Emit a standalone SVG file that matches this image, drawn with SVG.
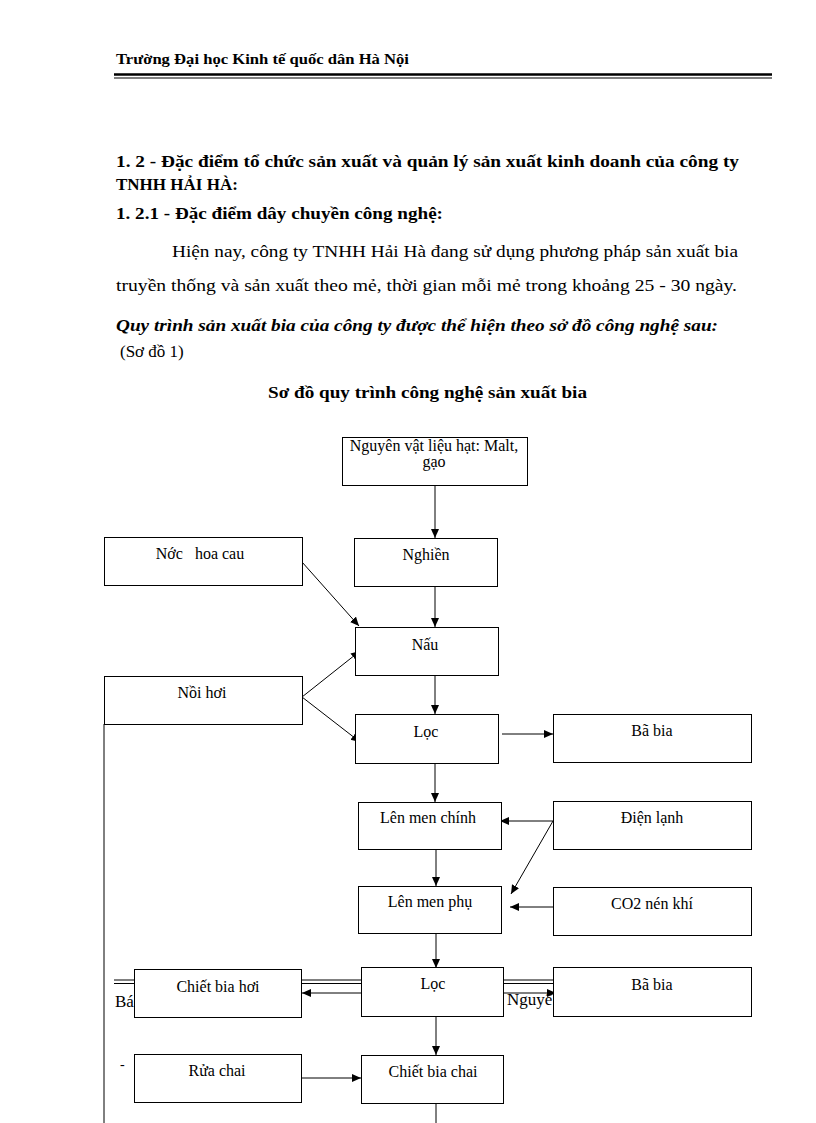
<svg xmlns="http://www.w3.org/2000/svg" width="816" height="1123" viewBox="0 0 816 1123">
<style>
.pg{font-family:"Liberation Serif","Times New Roman",serif;fill:#000}
.b{font-weight:bold}
.bt{font-family:"Liberation Serif","Times New Roman",serif;font-size:16px;fill:#000;text-anchor:middle}
.box{fill:#fff;stroke:#000;stroke-width:1}
.ln{stroke:#000;stroke-width:1;fill:none}
.ar{stroke:#000;stroke-width:1;fill:none;marker-end:url(#ah)}
</style>
<defs>
<marker id="ah" markerUnits="userSpaceOnUse" markerWidth="10" markerHeight="10" refX="9" refY="4" orient="auto">
<path d="M0,0 L9,4 L0,8 z" fill="#000"/>
</marker>
</defs>
<rect width="816" height="1123" fill="#fff"/>
<g id="page-text">
<text class="pg b" x="116" y="64" font-size="14" textLength="293" lengthAdjust="spacingAndGlyphs">Trường Đại học Kinh tế quốc dân Hà Nội</text>
<line x1="114" y1="74.5" x2="772" y2="74.5" stroke="#000" stroke-width="2.5"/>
<line x1="114" y1="78" x2="772" y2="78" stroke="#000" stroke-width="1"/>
<text class="pg b" x="116" y="167" font-size="17" textLength="623" lengthAdjust="spacingAndGlyphs">1. 2 - Đặc điểm tổ chức sản xuất và quản lý sản xuất kinh doanh của công ty</text>
<text class="pg b" x="116" y="190" font-size="17">TNHH HẢI HÀ:</text>
<text class="pg b" x="116" y="219" font-size="17" textLength="327" lengthAdjust="spacingAndGlyphs">1. 2.1 - Đặc điểm dây chuyền công nghệ:</text>
<text class="pg" x="172" y="257" font-size="17" textLength="566" lengthAdjust="spacingAndGlyphs">Hiện nay, công ty TNHH Hải Hà đang sử dụng phương pháp sản xuất bia</text>
<text class="pg" x="116" y="291" font-size="17" textLength="621" lengthAdjust="spacingAndGlyphs">truyền thống và sản xuất theo mẻ, thời gian mỗi mẻ trong khoảng 25  - 30 ngày.</text>
<text class="pg b" x="116" y="331" font-size="17" font-style="italic" textLength="602" lengthAdjust="spacingAndGlyphs">Quy trình sản xuất bia của công ty được thể hiện theo sở đồ công nghệ sau:</text>
<text class="pg" x="120" y="357" font-size="17">(Sơ đồ 1)</text>
<text class="pg b" x="268" y="398" font-size="17" textLength="319" lengthAdjust="spacingAndGlyphs">Sơ đồ quy trình  công nghệ sản xuất bia</text>
</g>
<g id="background-bleed">
<line x1="114" y1="980" x2="751" y2="980" stroke="#000" stroke-width="1"/>
<line x1="114" y1="983.5" x2="751" y2="983.5" stroke="#000" stroke-width="1"/>
<text class="pg" x="115" y="1007" font-size="17">Bá</text>
<text class="pg" x="507" y="1005" font-size="17">Nguyê</text>
<text class="pg" x="120" y="1069" font-size="14">-</text>
</g>
<g id="connectors">
<line class="ar" x1="435" y1="485" x2="435" y2="538"/>
<line class="ar" x1="435" y1="586" x2="435" y2="627"/>
<line class="ar" x1="302" y1="562" x2="359" y2="626"/>
<line class="ar" x1="302" y1="697" x2="360" y2="651"/>
<line class="ar" x1="302" y1="697" x2="360" y2="742"/>
<line class="ar" x1="435" y1="675" x2="435" y2="714"/>
<line class="ar" x1="502" y1="734" x2="553" y2="734"/>
<line class="ar" x1="435" y1="763" x2="435" y2="802"/>
<line class="ar" x1="553" y1="821" x2="500" y2="821"/>
<line class="ar" x1="553" y1="821" x2="511" y2="894"/>
<line class="ar" x1="553" y1="907" x2="510" y2="907"/>
<line class="ar" x1="436" y1="849" x2="436" y2="886"/>
<line class="ar" x1="436" y1="933" x2="436" y2="968"/>
<line class="ar" x1="362" y1="993" x2="302" y2="993"/>
<line class="ar" x1="504" y1="993" x2="556" y2="993"/>
<line class="ar" x1="436" y1="1016" x2="436" y2="1055"/>
<line class="ar" x1="301" y1="1078" x2="361" y2="1078"/>
<line class="ln" x1="436" y1="1103" x2="436" y2="1123"/>
<line class="ln" x1="104" y1="724" x2="104" y2="1123"/>
</g>
<g id="n-nguyenlieu"><rect class="box" x="342.5" y="437.5" width="185" height="48"/><text class="bt" x="434" y="451">Nguyên vật liệu hạt: Malt,</text><text class="bt" x="434" y="467">gạo</text></g>
<g id="n-nghien"><rect class="box" x="354.5" y="538.5" width="143" height="48"/><text class="bt" x="426" y="560">Nghiền</text></g>
<g id="n-nuochoacau"><rect class="box" x="104.5" y="537.5" width="198" height="48"/><text class="bt" x="200" y="559" xml:space="preserve">Nớc   hoa cau</text></g>
<g id="n-nau"><rect class="box" x="355.5" y="627.5" width="143" height="48"/><text class="bt" x="425" y="650">Nấu</text></g>
<g id="n-noihoi"><rect class="box" x="104.5" y="676.5" width="198" height="48"/><text class="bt" x="202" y="698">Nồi hơi</text></g>
<g id="n-loc1"><rect class="box" x="355.5" y="714.5" width="143" height="49"/><text class="bt" x="426" y="737">Lọc</text></g>
<g id="n-babia1"><rect class="box" x="553.5" y="714.5" width="198" height="48"/><text class="bt" x="652" y="736">Bã bia</text></g>
<g id="n-lenmenchinh"><rect class="box" x="358.5" y="802.5" width="143" height="47"/><text class="bt" x="428" y="823">Lên men chính</text></g>
<g id="n-dienlanh"><rect class="box" x="553.5" y="801.5" width="198" height="48"/><text class="bt" x="652" y="823">Điện lạnh</text></g>
<g id="n-lenmenphu"><rect class="box" x="358.5" y="886.5" width="143" height="47"/><text class="bt" x="430" y="907">Lên men phụ</text></g>
<g id="n-co2"><rect class="box" x="553.5" y="887.5" width="198" height="48"/><text class="bt" x="652" y="909">CO2 nén khí</text></g>
<g id="n-chietbiahoi"><rect class="box" x="134.5" y="969.5" width="167" height="48"/><text class="bt" x="218" y="992">Chiết bia hơi</text></g>
<g id="n-loc2"><rect class="box" x="361.5" y="967.5" width="142" height="49"/><text class="bt" x="433" y="989">Lọc</text></g>
<g id="n-babia2"><rect class="box" x="553.5" y="967.5" width="198" height="49"/><text class="bt" x="652" y="990">Bã bia</text></g>
<g id="n-ruachai"><rect class="box" x="134.5" y="1054.5" width="167" height="48"/><text class="bt" x="217" y="1076">Rửa chai</text></g>
<g id="n-chietbiachai"><rect class="box" x="361.5" y="1055.5" width="142" height="48"/><text class="bt" x="433" y="1077">Chiết bia chai</text></g>
</svg>
